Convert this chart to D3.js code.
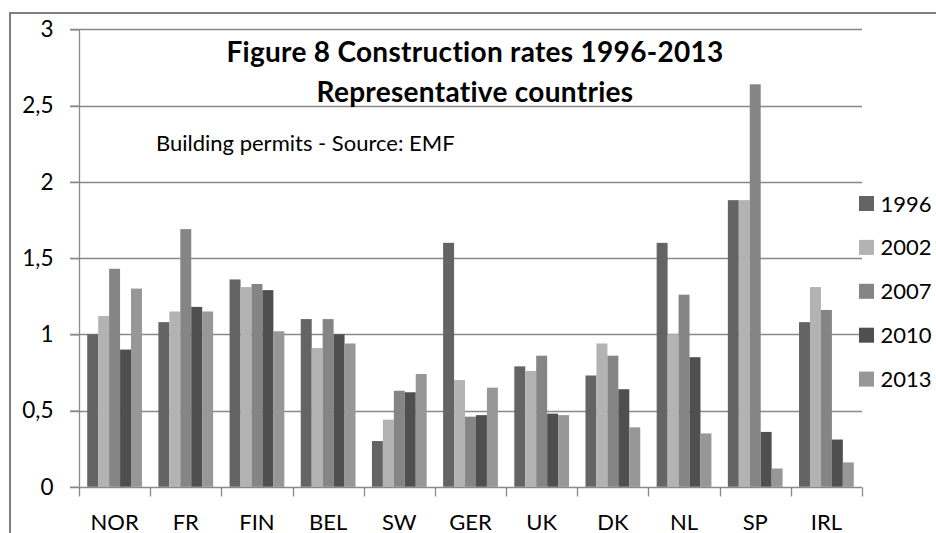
<!DOCTYPE html>
<html>
<head>
<meta charset="utf-8">
<script src="https://cdn.jsdelivr.net/npm/d3@7"></script>
<style>
  html, body { margin: 0; padding: 0; background: #fff; overflow: hidden; }
  svg { display: block; font-family: Lato, "Open Sans", sans-serif; }
</style>
</head>
<body>
<svg id="chart" width="936" height="533" viewBox="0 0 936 533"></svg>
<script>
const categories = ["NOR", "FR", "FIN", "BEL", "SW", "GER", "UK", "DK", "NL", "SP", "IRL"];
const years = ["1996", "2002", "2007", "2010", "2013"];
const v1996 = [1.00, 1.08, 1.36, 1.10, 0.30, 1.60, 0.79, 0.73, 1.60, 1.88, 1.08];
const v2002 = [1.12, 1.15, 1.31, 0.91, 0.44, 0.70, 0.76, 0.94, 1.00, 1.88, 1.31];
const v2007 = [1.43, 1.69, 1.33, 1.10, 0.63, 0.46, 0.86, 0.86, 1.26, 2.64, 1.16];
const v2010 = [0.90, 1.18, 1.29, 1.00, 0.62, 0.47, 0.48, 0.64, 0.85, 0.36, 0.31];
const v2013 = [1.30, 1.15, 1.02, 0.94, 0.74, 0.65, 0.47, 0.39, 0.35, 0.12, 0.16];
const yTicks = [0, 0.5, 1, 1.5, 2, 2.5, 3];
const yTickLabels = ["0", "0,5", "1", "1,5", "2", "2,5", "3"];
const titleLines = ["Figure 8 Construction rates 1996-2013", "Representative countries"];
const subtitle = "Building permits - Source: EMF";

const seriesValues = [v1996, v2002, v2007, v2010, v2013];
const seriesColors = ["#646464", "#b3b3b3", "#858585", "#4f4f4f", "#979797"];
const gridColor = "#898989";

const svg = d3.select("#chart");

// outer frame (top and left edges visible)
svg.append("line")
  .attr("x1", 9).attr("x2", 936).attr("y1", 13).attr("y2", 13)
  .attr("stroke", "#7f7f7f").attr("stroke-width", 2);
svg.append("line")
  .attr("x1", 10).attr("x2", 10).attr("y1", 12).attr("y2", 533)
  .attr("stroke", "#7f7f7f").attr("stroke-width", 2);

const x = d3.scaleBand().domain(categories).range([79, 862]).paddingInner(0).paddingOuter(0);
const xInner = d3.scaleBand().domain(years).range([0, x.bandwidth()]).paddingInner(0).paddingOuter(0.75);
const y = d3.scaleLinear().domain([0, 3]).range([486.8, 29.4]);

// gridlines
svg.append("g").selectAll("line")
  .data(yTicks.filter(t => t > 0))
  .join("line")
  .attr("x1", 70).attr("x2", 862)
  .attr("y1", d => Math.round(y(d)) + 0.5).attr("y2", d => Math.round(y(d)) + 0.5)
  .attr("stroke", gridColor).attr("stroke-width", 1.3);

// bars
const groups = svg.append("g").selectAll("g")
  .data(years)
  .join("g")
  .attr("fill", (d, i) => seriesColors[i]);

groups.selectAll("rect")
  .data((yr, i) => categories.map((c, j) => ({ c, yr, v: seriesValues[i][j] })))
  .join("rect")
  .attr("x", d => x(d.c) + xInner(d.yr))
  .attr("width", xInner.bandwidth())
  .attr("y", d => y(d.v))
  .attr("height", d => y(0) - y(d.v));

// y axis
const yAxis = d3.axisLeft(y)
  .tickValues(yTicks)
  .tickSize(9)
  .tickPadding(17)
  .tickFormat((d, i) => yTickLabels[i]);
const gy = svg.append("g").attr("transform", "translate(79.5,0)").call(yAxis);
gy.select(".domain").attr("stroke", gridColor).attr("stroke-width", 1.3).attr("d", `M0,${y(3)}V${y(0)}`);
gy.selectAll(".tick line").attr("stroke", gridColor).attr("stroke-width", 1.3);
gy.selectAll(".tick text")
  .attr("fill", "#000")
  .style("font-family", "Lato, sans-serif")
  .style("font-size", "22.5px");

// x axis
const gx = svg.append("g").attr("transform", `translate(0,${Math.round(y(0)) + 0.5})`);
gx.append("line").attr("x1", 70).attr("x2", 862).attr("stroke", gridColor).attr("stroke-width", 1.3);
const boundaries = categories.map(c => x(c)).concat([x.range()[1]]);
gx.selectAll("line.tk").data(boundaries).join("line").attr("class", "tk")
  .attr("x1", d => Math.round(d) + 0.5).attr("x2", d => Math.round(d) + 0.5)
  .attr("y1", 0).attr("y2", 9)
  .attr("stroke", gridColor).attr("stroke-width", 1.3);
gx.selectAll("text").data(categories).join("text")
  .attr("x", d => x(d) + x.bandwidth() / 2)
  .attr("y", 42)
  .attr("text-anchor", "middle")
  .attr("fill", "#000")
  .style("font-size", "22px")
  .text(d => d);

// title
svg.append("g").selectAll("text").data(titleLines).join("text")
  .attr("x", 475)
  .attr("y", (d, i) => 62 + i * 39.5)
  .attr("text-anchor", "middle")
  .attr("fill", "#000")
  .style("font-size", "28px")
  .style("letter-spacing", "0.3px")
  .style("font-weight", "bold")
  .text(d => d);

svg.append("text")
  .attr("x", 156).attr("y", 151)
  .attr("fill", "#000")
  .style("font-size", "22px")
  .text(subtitle);

// legend
const legend = svg.append("g").selectAll("g").data(years).join("g")
  .attr("transform", (d, i) => `translate(859,${203.5 + i * 43.9})`);
legend.append("rect")
  .attr("x", 0).attr("y", -7.5).attr("width", 15).attr("height", 15)
  .attr("fill", (d, i) => seriesColors[i]);
legend.append("text")
  .attr("x", 21.5).attr("y", 8)
  .attr("fill", "#000")
  .style("font-size", "22px")
  .text(d => d);
</script>
</body>
</html>
